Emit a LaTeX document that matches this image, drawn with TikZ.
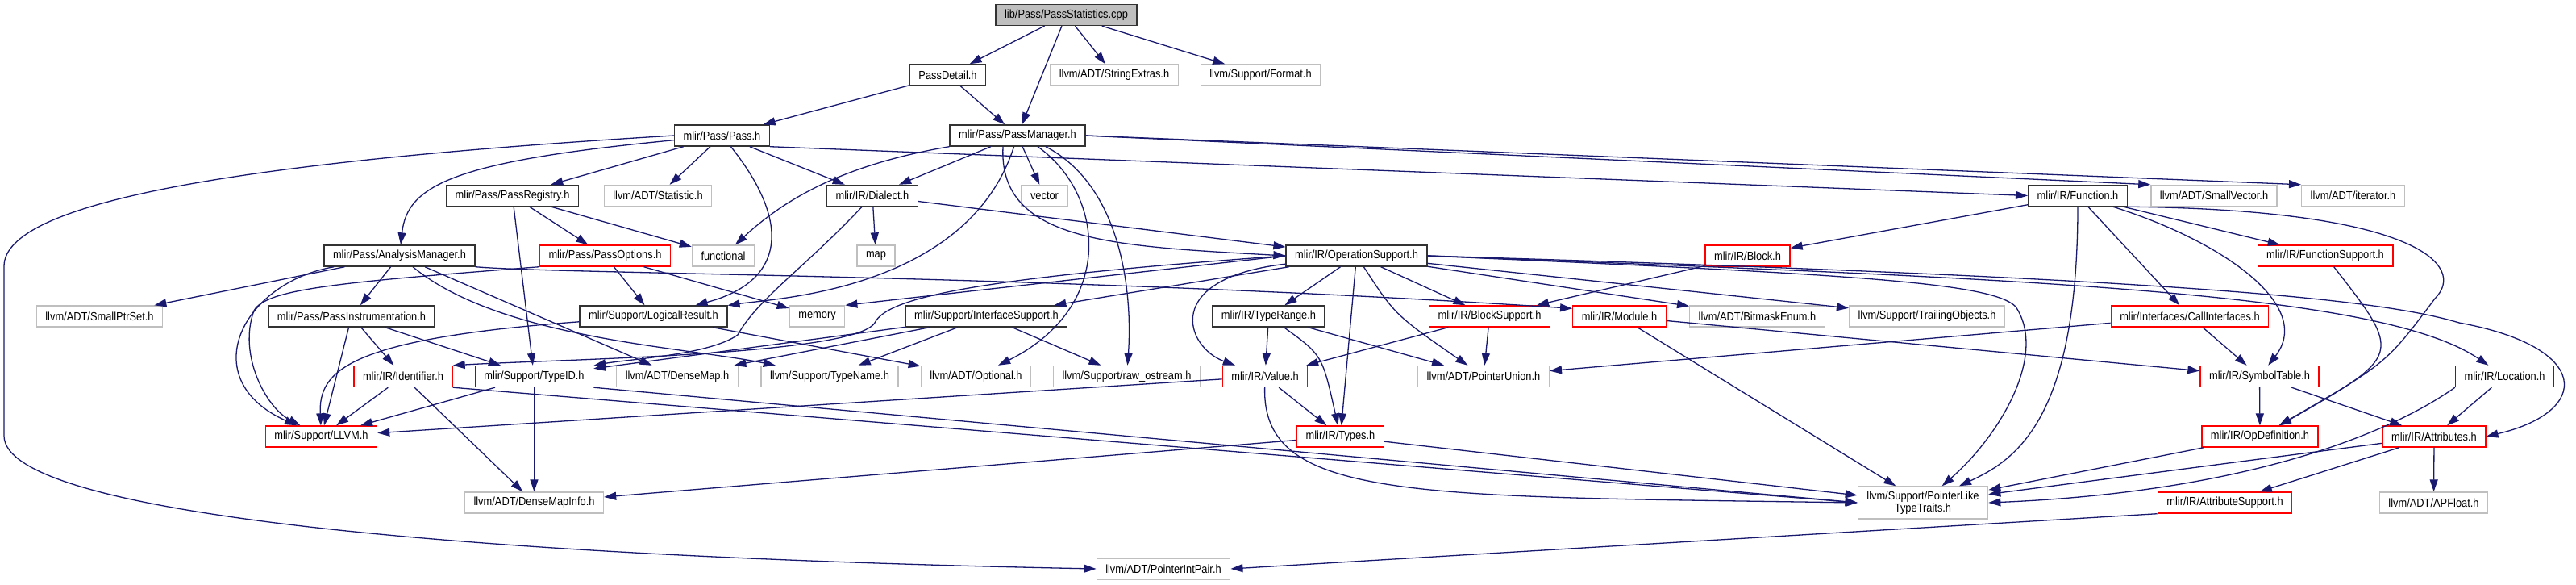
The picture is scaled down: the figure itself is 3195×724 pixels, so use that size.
\documentclass[tikz,border=0pt]{standalone}
\usepackage{fontspec}
\setmainfont{Liberation Sans}
\usepackage{graphicx}
\usetikzlibrary{arrows.meta}
\definecolor{edgeblue}{HTML}{191970}
\definecolor{extgray}{HTML}{BFBFBF}
\newcommand{\hname}[1]{\scalebox{0.88}[1]{#1}}
\tikzset{
  hdr/.style={rectangle, draw=black!80, line width=1.4pt, fill=white, minimum height=26pt, inner xsep=11pt, inner ysep=0pt, font=\fontsize{14.6}{17}\selectfont},
  docnode/.style={hdr},
  extnode/.style={hdr, draw=extgray},
  cutnode/.style={hdr, draw=red},
  rootnode/.style={hdr, fill=extgray},
  dep/.style={-{Triangle[length=15pt,width=10pt]}, line width=1.3pt, color=edgeblue}
}

\begin{document}
\begin{tikzpicture}[x=1pt,y=-1pt]
  \useasboundingbox (0,0) rectangle (3195,724);
  % rank 1-3
  \node[rootnode] (root) at (1322.5,18.5) {\hname{lib/Pass/PassStatistics.cpp}};
  \node[docnode] (passdetail) at (1175.5,93) {\hname{PassDetail.h}};
  \node[extnode] (strextras) at (1382,93) {\hname{llvm/ADT/StringExtras.h}};
  \node[extnode] (format) at (1563.5,93) {\hname{llvm/Support/Format.h}};
  \node[docnode] (pass) at (895.5,168) {\hname{mlir/Pass/Pass.h}};
  \node[docnode] (passmgr) at (1262,168) {\hname{mlir/Pass/PassManager.h}};
  % rank 4
  \node[docnode] (passreg) at (635.5,242.5) {\hname{mlir/Pass/PassRegistry.h}};
  \node[extnode] (statistic) at (816,242.5) {\hname{llvm/ADT/Statistic.h}};
  \node[docnode] (dialect) at (1082,242.5) {\hname{mlir/IR/Dialect.h}};
  \node[extnode] (vector) at (1295.5,242.5) {\hname{vector}};
  \node[docnode] (function) at (2577,242.5) {\hname{mlir/IR/Function.h}};
  \node[extnode] (smallvec) at (2746,242.5) {\hname{llvm/ADT/SmallVector.h}};
  \node[extnode] (iterator) at (2918.5,242.5) {\hname{llvm/ADT/iterator.h}};
  % rank 5
  \node[docnode] (analysis) at (495.5,317) {\hname{mlir/Pass/AnalysisManager.h}};
  \node[cutnode] (passopts) at (750.5,317) {\hname{mlir/Pass/PassOptions.h}};
  \node[extnode] (functional) at (897,317) {\hname{functional}};
  \node[extnode] (map) at (1086.5,317) {\hname{map}};
  \node[docnode] (opsupport) at (1682.5,317) {\hname{mlir/IR/OperationSupport.h}};
  \node[cutnode] (block) at (2167.5,317) {\hname{mlir/IR/Block.h}};
  \node[cutnode] (funcsupport) at (2884,317) {\hname{mlir/IR/FunctionSupport.h}};
  % rank 6
  \node[extnode] (smallptrset) at (123.5,392) {\hname{llvm/ADT/SmallPtrSet.h}};
  \node[docnode] (passinstr) at (436,392) {\hname{mlir/Pass/PassInstrumentation.h}};
  \node[docnode] (logical) at (810.5,392) {\hname{mlir/Support/LogicalResult.h}};
  \node[extnode] (memory) at (1013.5,392) {\hname{memory}};
  \node[docnode] (ifsupport) at (1223.5,392) {\hname{mlir/Support/InterfaceSupport.h}};
  \node[docnode] (typerange) at (1573.5,392) {\hname{mlir/IR/TypeRange.h}};
  \node[cutnode] (blocksupport) at (1847.5,392) {\hname{mlir/IR/BlockSupport.h}};
  \node[cutnode] (module) at (2008.5,392) {\hname{mlir/IR/Module.h}};
  \node[extnode] (bitmask) at (2179.5,392) {\hname{llvm/ADT/BitmaskEnum.h}};
  \node[extnode] (trailing) at (2390,392) {\hname{llvm/Support/TrailingObjects.h}};
  \node[cutnode] (callif) at (2716,392) {\hname{mlir/Interfaces/CallInterfaces.h}};
  % rank 7
  \node[cutnode] (identifier) at (500,466.5) {\hname{mlir/IR/Identifier.h}};
  \node[docnode] (typeid) at (662.5,466.5) {\hname{mlir/Support/TypeID.h}};
  \node[extnode] (densemap) at (840,466.5) {\hname{llvm/ADT/DenseMap.h}};
  \node[extnode] (typename) at (1029,466.5) {\hname{llvm/Support/TypeName.h}};
  \node[extnode] (optional) at (1210.5,466.5) {\hname{llvm/ADT/Optional.h}};
  \node[extnode] (rawostream) at (1397.5,466.5) {\hname{llvm/Support/raw\_ostream.h}};
  \node[cutnode] (value) at (1569,466.5) {\hname{mlir/IR/Value.h}};
  \node[extnode] (ptrunion) at (1840,466.5) {\hname{llvm/ADT/PointerUnion.h}};
  \node[cutnode] (symtable) at (2802.5,466.5) {\hname{mlir/IR/SymbolTable.h}};
  \node[docnode] (location) at (3106.5,466.5) {\hname{mlir/IR/Location.h}};
  % rank 8-10
  \node[cutnode] (llvmh) at (398.5,541) {\hname{mlir/Support/LLVM.h}};
  \node[cutnode] (types) at (1662.5,541) {\hname{mlir/IR/Types.h}};
  \node[cutnode] (opdef) at (2803,541) {\hname{mlir/IR/OpDefinition.h}};
  \node[cutnode] (attributes) at (3019,541) {\hname{mlir/IR/Attributes.h}};
  \node[extnode] (densemapinfo) at (662.5,623) {\hname{llvm/ADT/DenseMapInfo.h}};
  \node[extnode, align=center, minimum height=40pt, font=\fontsize{14.6}{15.5}\selectfont] (ptrlike) at (2385,623) {\hname{llvm/Support/PointerLike}\\\hname{TypeTraits.h}};
  \node[cutnode] (attrsupport) at (2759.5,623) {\hname{mlir/IR/AttributeSupport.h}};
  \node[extnode] (apfloat) at (3018.5,623) {\hname{llvm/ADT/APFloat.h}};
  \node[extnode] (ptrintpair) at (1443,705) {\hname{llvm/ADT/PointerIntPair.h}};

  % PassStatistics.cpp, PassDetail.h
  \draw[dep] (root) -- (passdetail);
  \draw[dep] (root) -- (passmgr);
  \draw[dep] (root) -- (strextras);
  \draw[dep] (root) -- (format);
  \draw[dep] (passdetail) -- (pass);
  \draw[dep] (passdetail) -- (passmgr);
  % Pass.h
  \draw[dep] (pass) -- (passreg);
  \draw[dep] (pass) -- (statistic);
  \draw[dep] (pass) -- (dialect);
  \draw[dep] (pass) .. controls (560,200) and (505,230) .. (analysis);
  \draw[dep] (pass) .. controls (985,280) and (970,350) .. (logical);
  \draw[dep] (pass.south east) -- (function.west);
  \draw[dep] (pass.west) .. controls (300,200) and (5,250) .. (5,330) -- (5,540) .. controls (5,640) and (600,690) .. (ptrintpair.west);
  % PassManager.h
  \draw[dep] (passmgr) -- (dialect);
  \draw[dep] (passmgr) -- (vector);
  \draw[dep] (passmgr.south west) .. controls (1040,205) and (970,250) .. (functional);
  \draw[dep] ([xshift=-18pt]passmgr.south) .. controls (1238,300) and (1380,305) .. (opsupport.west);
  \draw[dep] (passmgr) .. controls (1200,360) and (960,370) .. (logical);
  \draw[dep] ([xshift=25pt]passmgr.south) .. controls (1370,240) and (1385,380) .. (optional);
  \draw[dep] ([xshift=35pt]passmgr.south) .. controls (1390,230) and (1405,360) .. (rawostream);
  \draw[dep] (passmgr.east) -- (smallvec.north west);
  \draw[dep] (passmgr.east) -- (iterator.north west);
  % PassRegistry.h, AnalysisManager.h, PassOptions.h
  \draw[dep] (passreg) -- (passopts);
  \draw[dep] (passreg) -- (functional);
  \draw[dep] (passreg) -- (typeid);
  \draw[dep] (analysis) -- (smallptrset);
  \draw[dep] (analysis) -- (passinstr);
  \draw[dep] (analysis) .. controls (300,350) and (240,470) .. (llvmh);
  \draw[dep] (analysis) -- (densemap);
  \draw[dep] (analysis) .. controls (620,420) and (850,430) .. (typename);
  \draw[dep] (analysis.south east) .. controls (700,340) and (1300,340) .. ([yshift=-4pt]module.north west);
  \draw[dep] (passopts.south west) .. controls (420,350) and (330,358) .. (315,385) .. controls (295,440) and (330,505) .. (llvmh);
  \draw[dep] (passopts) -- (logical);
  \draw[dep] (passopts) -- (memory);
  % PassInstrumentation.h, LogicalResult.h, Dialect.h
  \draw[dep] (passinstr) -- (llvmh);
  \draw[dep] (passinstr) -- (identifier);
  \draw[dep] (passinstr) -- (typeid);
  \draw[dep] (logical) .. controls (430,420) and (395,460) .. (llvmh);
  \draw[dep] (logical) -- (optional);
  \draw[dep] (dialect) -- (map);
  \draw[dep] (dialect) -- (opsupport);
  \draw[dep] (dialect) .. controls (1000,330) and (940,370) .. (915,415) .. controls (880,440) and (780,445) .. (typeid);
  % OperationSupport.h
  \draw[dep] (opsupport.west) -- (memory.north east);
  \draw[dep] (opsupport) -- (ifsupport);
  \draw[dep] (opsupport.west) .. controls (1200,345) and (1100,370) .. (1085,400) .. controls (1060,440) and (700,445) .. (identifier.north east);
  \draw[dep] (opsupport) -- (typerange);
  \draw[dep] (opsupport) .. controls (1440,345) and (1470,430) .. (value);
  \draw[dep] (opsupport) -- (types);
  \draw[dep] (opsupport) .. controls (1730,390) .. (ptrunion);
  \draw[dep] (opsupport) -- (blocksupport);
  \draw[dep] (opsupport) -- (bitmask);
  \draw[dep] (opsupport) -- (trailing);
  \draw[dep] (opsupport.east) .. controls (2500,345) and (2950,360) .. (location);
  \draw[dep] (opsupport.east) .. controls (2700,345) and (2950,370) .. (3050,400) .. controls (3215,430) and (3215,510) .. (attributes.east);
  \draw[dep] (opsupport.east) .. controls (2300,340) and (2470,350) .. (2500,380) .. controls (2540,440) and (2480,540) .. (ptrlike);
  % Block.h, TypeRange.h, BlockSupport.h, Module.h, CallInterfaces.h
  \draw[dep] (block) -- (blocksupport);
  \draw[dep] (typerange) -- (value);
  \draw[dep] (typerange) .. controls (1640,440) .. (types);
  \draw[dep] (typerange) -- (ptrunion);
  \draw[dep] (blocksupport) -- (value);
  \draw[dep] (blocksupport) -- (ptrunion);
  \draw[dep] (module) -- (ptrlike);
  \draw[dep] (module) -- (symtable);
  \draw[dep] (callif) -- (ptrunion);
  \draw[dep] (callif) -- (symtable);
  % Function.h, FunctionSupport.h
  \draw[dep] (function) -- (block);
  \draw[dep] (function) .. controls (2577,520) and (2500,570) .. (ptrlike);
  \draw[dep] (function) -- (callif);
  \draw[dep] (function) .. controls (2760,300) and (2870,380) .. (symtable);
  \draw[dep] (function) -- (funcsupport);
  \draw[dep] (function.south east) .. controls (3000,260) and (3060,330) .. (3020,370) .. controls (2960,450) .. (opdef);
  \draw[dep] (funcsupport) .. controls (2980,440) .. (opdef);
  % SymbolTable.h, Location.h, OpDefinition.h, Attributes.h
  \draw[dep] (symtable) -- (opdef);
  \draw[dep] (symtable) -- (attributes);
  \draw[dep] (location.south west) .. controls (2960,540) and (2780,610) .. (ptrlike.east);
  \draw[dep] (location) -- (attributes);
  \draw[dep] (opdef) -- (ptrlike);
  \draw[dep] (attributes) -- (ptrlike);
  \draw[dep] (attributes) -- (attrsupport);
  \draw[dep] (attributes) -- (apfloat);
  \draw[dep] (attrsupport.south west) -- (ptrintpair.east);
  % Value.h, Types.h, Identifier.h, TypeID.h, InterfaceSupport.h
  \draw[dep] (value) -- (llvmh);
  \draw[dep] (value) -- (types);
  \draw[dep] (value) .. controls (1565,620) and (1750,615) .. (ptrlike.west);
  \draw[dep] (types) -- (densemapinfo);
  \draw[dep] (types) -- (ptrlike);
  \draw[dep] (identifier) -- (llvmh);
  \draw[dep] (identifier) -- (densemapinfo);
  \draw[dep] (identifier.south east) -- (ptrlike.west);
  \draw[dep] (typeid) -- (llvmh);
  \draw[dep] (typeid) -- (densemapinfo);
  \draw[dep] (typeid.south east) -- (ptrlike.west);
  \draw[dep] (ifsupport) -- (typeid);
  \draw[dep] (ifsupport) -- (densemap);
  \draw[dep] (ifsupport) -- (typename);
  \draw[dep] (ifsupport) -- (rawostream);
\end{tikzpicture}
\end{document}
